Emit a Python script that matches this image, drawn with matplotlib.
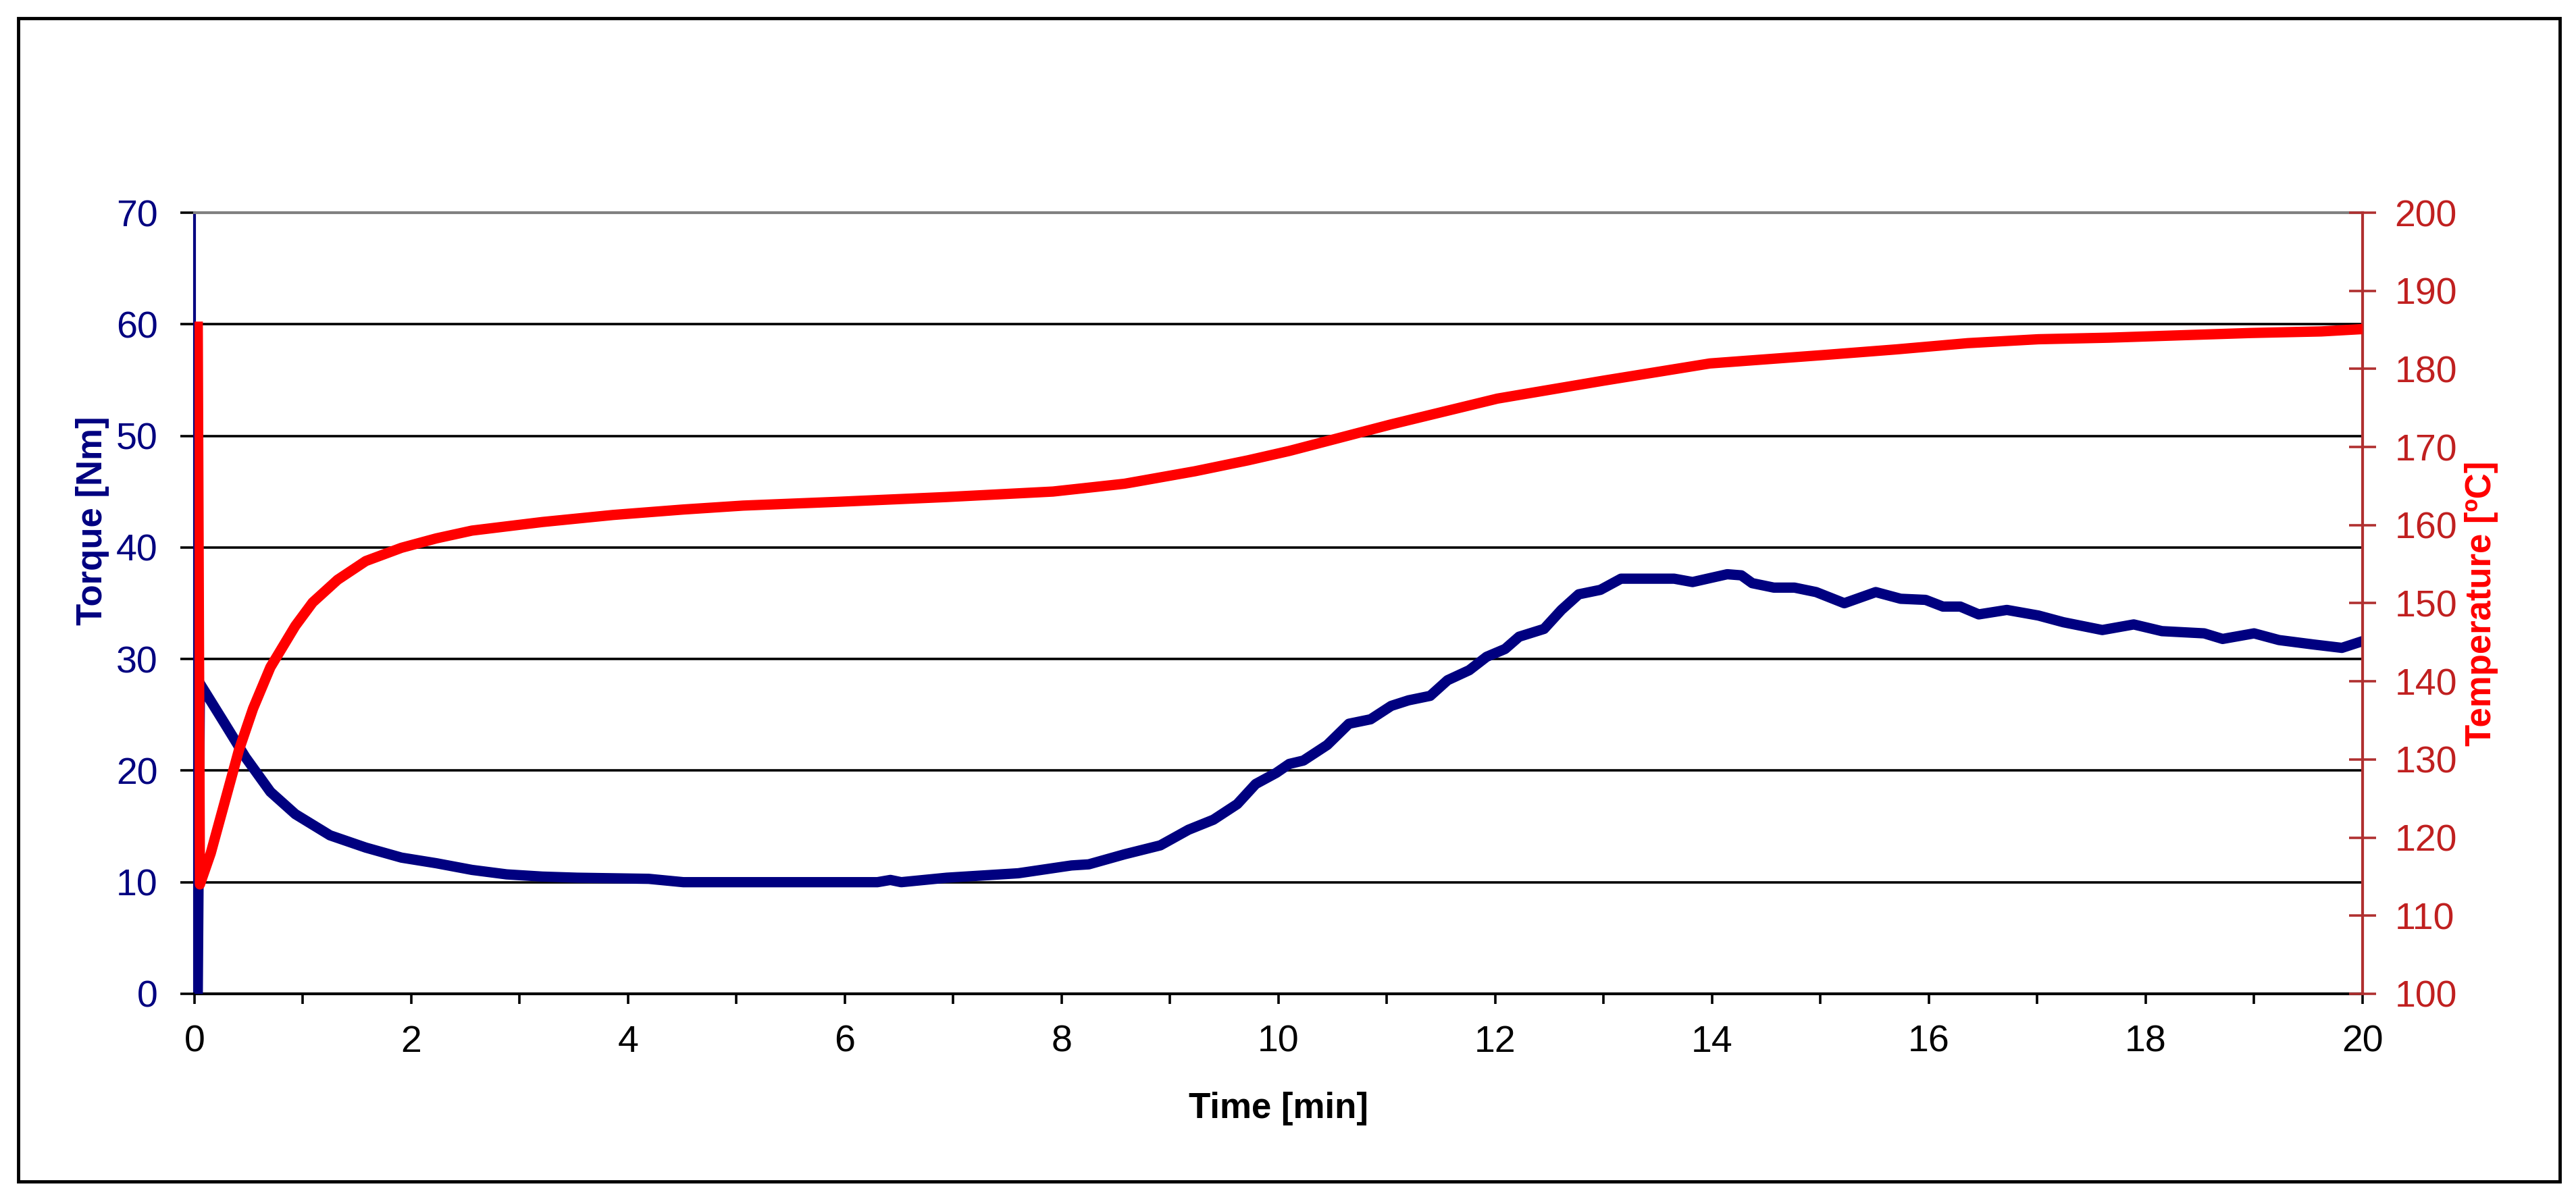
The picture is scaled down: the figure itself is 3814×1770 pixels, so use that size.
import numpy as np
import matplotlib
matplotlib.use("Agg")
import matplotlib.pyplot as plt
from matplotlib.ticker import MultipleLocator
from matplotlib.patches import Rectangle

plt.rcParams['font.family'] = ['Liberation Sans', 'DejaVu Sans']

# torque curve [min, Nm]
torque_time = [0.03, 0.05, 0.28, 0.47, 0.70, 0.93, 1.25, 1.58, 1.91, 2.23,
               2.56, 2.88, 3.21, 3.53, 4.19, 4.51, 5.06, 6.30, 6.42, 6.52,
               6.94, 7.60, 8.09, 8.25, 8.58, 8.91, 9.17, 9.40, 9.62, 9.79,
               9.98, 10.10, 10.23, 10.45, 10.65, 10.85, 11.04, 11.20, 11.40, 11.56,
               11.76, 11.92, 12.09, 12.22, 12.45, 12.61, 12.77, 12.97, 13.16, 13.65,
               13.82, 14.14, 14.27, 14.37, 14.57, 14.76, 14.96, 15.22, 15.51, 15.74,
               15.97, 16.13, 16.29, 16.46, 16.72, 17.01, 17.24, 17.60, 17.89, 18.15,
               18.54, 18.71, 19.00, 19.23, 19.55, 19.81, 20.00]
torque_nm = [0.0, 27.8, 24.2, 21.2, 18.1, 16.1, 14.2, 13.1, 12.2, 11.7,
             11.1, 10.7, 10.5, 10.4, 10.3, 10.0, 10.0, 10.0, 10.2, 10.0,
             10.4, 10.8, 11.5, 11.6, 12.5, 13.3, 14.7, 15.6, 17.0, 18.8,
             19.8, 20.6, 20.9, 22.3, 24.2, 24.6, 25.8, 26.3, 26.7, 28.1,
             29.0, 30.2, 30.9, 32.0, 32.7, 34.4, 35.8, 36.2, 37.2, 37.2,
             36.9, 37.6, 37.5, 36.8, 36.4, 36.4, 36.0, 35.0, 36.0, 35.4,
             35.3, 34.7, 34.7, 34.0, 34.4, 33.9, 33.3, 32.6, 33.1, 32.5,
             32.3, 31.8, 32.3, 31.7, 31.3, 31.0, 31.6]

# temperature curve [min, degC]
temp_time = [0.03, 0.05, 0.15, 0.28, 0.41, 0.54, 0.70, 0.93, 1.09, 1.32,
             1.58, 1.91, 2.23, 2.56, 3.21, 3.86, 4.51, 5.06, 5.96, 6.94,
             7.92, 8.58, 9.23, 9.72, 10.10, 11.04, 12.02, 13.00, 13.98, 15.05,
             15.70, 16.36, 17.01, 17.66, 18.31, 18.97, 19.62, 20.00]
temp_c = [185.4, 114.0, 118.0, 124.6, 131.2, 136.5, 141.8, 147.1, 150.1, 153.0,
          155.4, 157.1, 158.3, 159.3, 160.4, 161.3, 162.0, 162.5, 163.0, 163.6,
          164.3, 165.3, 166.9, 168.3, 169.5, 172.9, 176.2, 178.5, 180.7, 181.8,
          182.5, 183.3, 183.8, 184.0, 184.3, 184.6, 184.8, 185.1]

navy = '#000080'
red = '#ff0000'
dark_red = '#b03030'

fig = plt.figure(figsize=(38.14, 17.70), dpi=100)
ax = fig.add_axes([0.0755, 0.1684, 0.8416, 0.6536])
ax2 = ax.twinx()

ax.plot(torque_time, torque_nm, color=navy, lw=11, solid_joinstyle='round', zorder=3)
ax2.plot(temp_time, temp_c, color=red, lw=11, solid_joinstyle='round', zorder=3)

ax.set_xlim(0, 20)
ax.set_ylim(0, 70)
ax2.set_ylim(100, 200)

ax.xaxis.set_major_locator(MultipleLocator(2))
ax.xaxis.set_minor_locator(MultipleLocator(1))
ax.yaxis.set_major_locator(MultipleLocator(10))
ax2.yaxis.set_major_locator(MultipleLocator(10))

# horizontal grid, the 70 line is the grey plot border
ax.yaxis.grid(True, color='black', lw=2.6)
ax.set_axisbelow(True)
for gl, v in zip(ax.get_ygridlines(), ax.get_yticks()):
    if v >= 70 or v <= 0:
        gl.set_visible(False)

for s in ['left', 'right', 'top', 'bottom']:
    ax2.spines[s].set_visible(False)
ax2.spines['right'].set_visible(True)
ax2.spines['right'].set_color(dark_red)
ax2.spines['right'].set_linewidth(3)
ax.spines['right'].set_visible(False)
ax.spines['left'].set_color(navy)
ax.spines['left'].set_linewidth(3)
ax.spines['bottom'].set_color('black')
ax.spines['bottom'].set_linewidth(3)
ax.spines['top'].set_color('#808080')
ax.spines['top'].set_linewidth(3)

ax.tick_params(axis='x', which='both', direction='out', length=11, width=2.6,
               color='black', labelsize=40, labelcolor='black', pad=22)
ax.tick_params(axis='y', direction='out', length=15, width=2.6, color='black',
               labelsize=40, labelcolor=navy, pad=24)
ax2.tick_params(axis='y', direction='inout', length=29, width=2.6, color=dark_red,
                labelsize=40, labelcolor='#c02020', pad=20)

ax.set_xlabel('Time [min]', fontsize=38, fontweight='bold', color='black')
ax.xaxis.label.set_va('center')
ax.xaxis.set_label_coords(0.5, -0.147)
ax.set_ylabel('Torque [Nm]', fontsize=38, fontweight='bold', color=navy)
ax.yaxis.label.set_va('center')
ax.yaxis.set_label_coords(-0.047, 0.606)
ax2.set_ylabel('Temperature [ºC]', fontsize=38, fontweight='bold', color=red)
ax2.yaxis.label.set_va('center')
ax2.yaxis.set_label_coords(1.055, 0.5)

# outer frame around the chart
fig.patches.append(Rectangle((0.0071, 0.0113), 0.9866, 0.9734, transform=fig.transFigure,
                             fill=False, edgecolor='black', lw=3.5))

fig.savefig('out.png', dpi=100)
